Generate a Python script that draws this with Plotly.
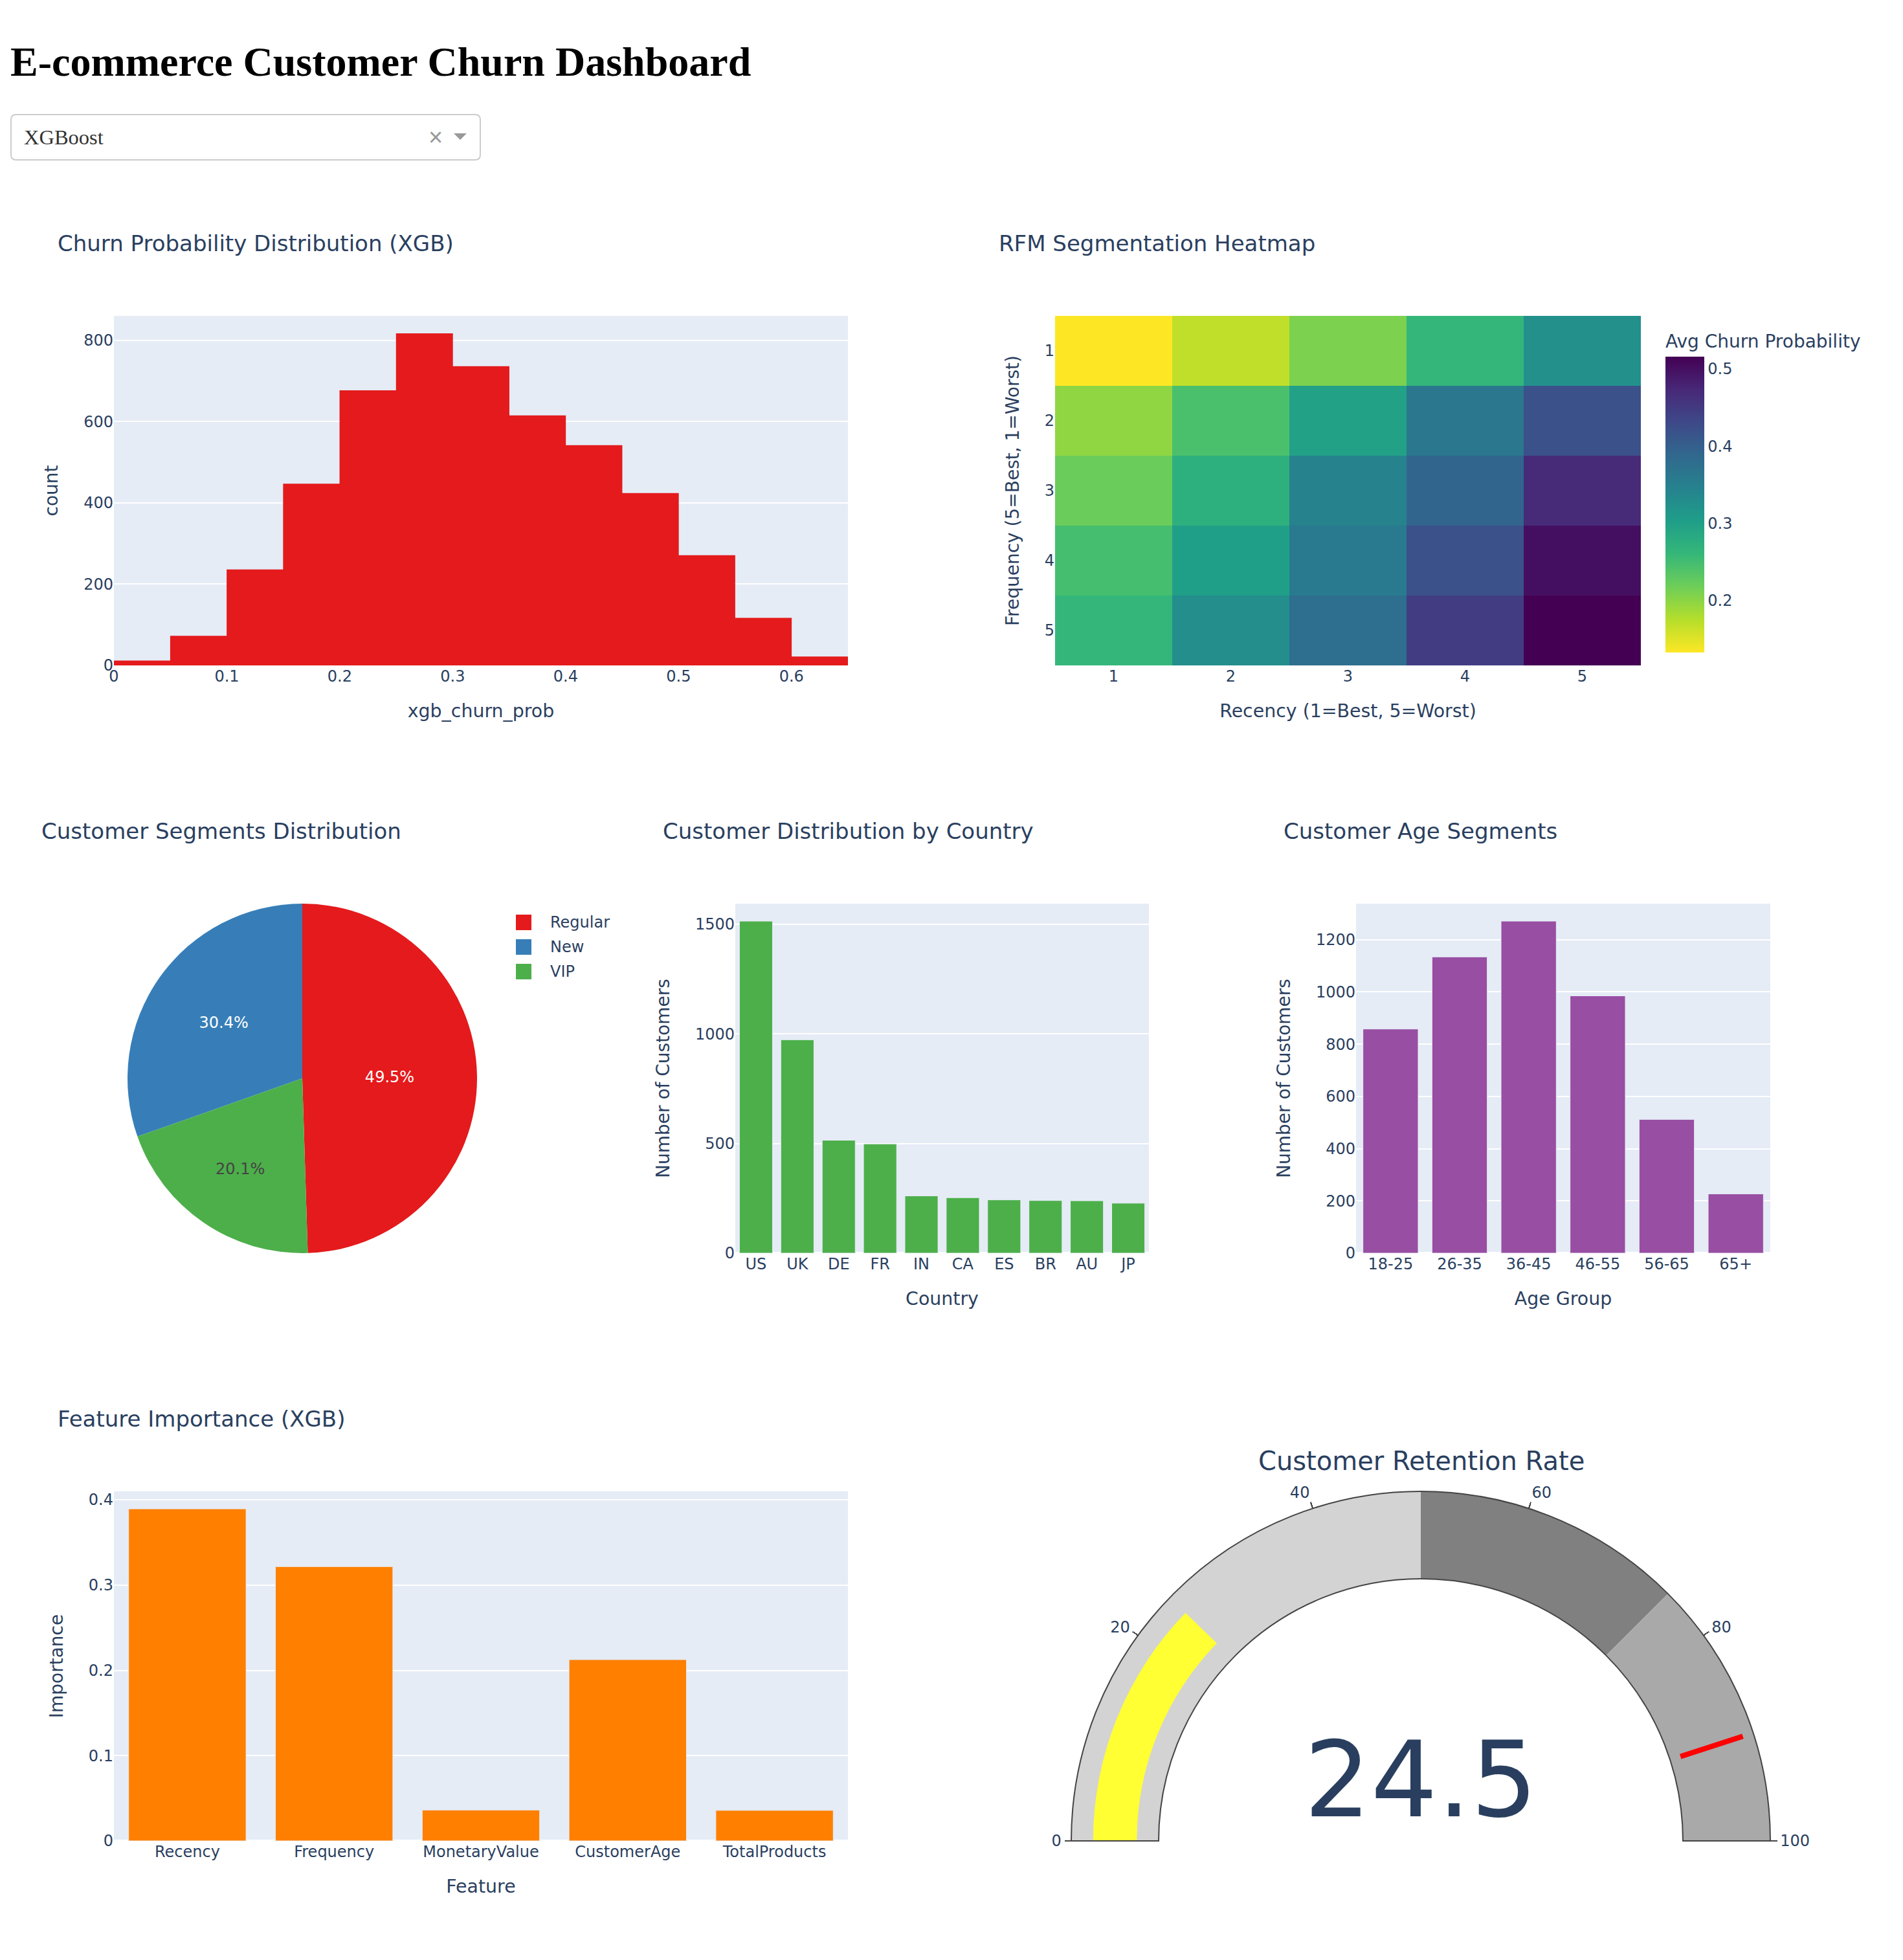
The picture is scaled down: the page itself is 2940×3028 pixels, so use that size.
import plotly.graph_objects as go

# ---------- data ----------
hist_x = [0.025, 0.075, 0.125, 0.175, 0.225, 0.275, 0.325, 0.375, 0.425, 0.475, 0.525, 0.575, 0.625]
hist_y = [12, 73, 236, 447, 677, 817, 736, 615, 542, 424, 271, 117, 22]
rfm_recency = [1, 2, 3, 4, 5]
rfm_frequency = [1, 2, 3, 4, 5]
rfm_row1 = [0.133, 0.169, 0.210, 0.263, 0.325]
rfm_row2 = [0.198, 0.244, 0.298, 0.363, 0.420]
rfm_row3 = [0.221, 0.275, 0.344, 0.393, 0.470]
rfm_row4 = [0.248, 0.301, 0.359, 0.420, 0.501]
rfm_row5 = [0.263, 0.328, 0.378, 0.447, 0.516]
seg_labels = ["Regular", "New", "VIP"]
seg_values = [2475, 1520, 1005]
countries = ["US", "UK", "DE", "FR", "IN", "CA", "ES", "BR", "AU", "JP"]
country_counts = [1514, 973, 515, 498, 261, 253, 243, 240, 239, 228]
age_groups = ["18-25", "26-35", "36-45", "46-55", "56-65", "65+"]
age_counts = [858, 1134, 1271, 985, 512, 227]
features = ["Recency", "Frequency", "MonetaryValue", "CustomerAge", "TotalProducts"]
importance = [0.3894, 0.3217, 0.0362, 0.2126, 0.0358]
retention = 24.5
retention_threshold = 90

RED, BLUE, GREEN, PURPLE, ORANGE, YELLOW = "#E41A1C", "#377EB8", "#4DAF4A", "#984EA3", "#FF7F00", "#FFFF33"
INK = "#2a3f5f"
FONT = "DejaVu Sans"
SERIF = "Liberation Serif"

# ---------- page geometry (window pixels; the page body has an 8px margin) ----------
W, H = 2924, 3000
def px(x): return (x - 8) / W
def py(y): return 1 - (y - 8) / H
def dom_x(a, b): return [px(a), px(b)]
def dom_y(top, bottom): return [py(bottom), py(top)]

ROW1 = dom_y(488, 1028)
ROW2 = dom_y(1396, 1936)
ROW3 = dom_y(2304, 2844)

fig = go.Figure()

fig.add_trace(go.Bar(x=hist_x, y=hist_y, width=0.0504, marker=dict(color=RED, line_width=0),
                     xaxis="x", yaxis="y", showlegend=False))
fig.add_trace(go.Heatmap(z=[rfm_row1, rfm_row2, rfm_row3, rfm_row4, rfm_row5], x=rfm_recency, y=rfm_frequency,
                         colorscale="Viridis_r", xaxis="x2", yaxis="y2",
                         colorbar=dict(title=dict(text="Avg Churn Probability", side="top", font=dict(size=28)),
                                       thickness=60, x=px(2553), xanchor="left", xpad=20, ypad=20,
                                       y=py(760.5), yanchor="middle", len=535 / H, lenmode="fraction",
                                       outlinewidth=0, tickfont=dict(size=24), dtick=0.1)))
fig.add_trace(go.Pie(labels=seg_labels, values=seg_values, textinfo="percent", automargin=False,
                     marker=dict(colors=[RED, BLUE, GREEN]), textfont=dict(size=24), showlegend=False,
                     domain=dict(x=dom_x(197, 737), y=ROW2)))
fig.add_trace(go.Bar(x=countries, y=country_counts, marker=dict(color=GREEN, line=dict(width=1, color="#E5ECF6")),
                     xaxis="x3", yaxis="y3", showlegend=False))
fig.add_trace(go.Bar(x=age_groups, y=age_counts, marker=dict(color=PURPLE, line=dict(width=1, color="#E5ECF6")),
                     xaxis="x4", yaxis="y4", showlegend=False))
fig.add_trace(go.Bar(x=features, y=importance, marker=dict(color=ORANGE, line=dict(width=1, color="#E5ECF6")),
                     xaxis="x5", yaxis="y5", showlegend=False))
fig.add_trace(go.Indicator(mode="gauge+number", value=retention,
                           number=dict(font=dict(size=162, color=INK)),
                           domain=dict(x=dom_x(1628, 2762), y=ROW3),
                           gauge=dict(axis=dict(range=[0, 100], tickfont=dict(size=24), tickwidth=2, ticklen=10, tickcolor="#444"),
                                      bar=dict(color=YELLOW, thickness=0.5),
                                      borderwidth=2, bordercolor="#444",
                                      steps=[dict(range=[0, 50], color="lightgray"),
                                             dict(range=[50, 75], color="gray"),
                                             dict(range=[75, 100], color="darkgray")],
                                      threshold=dict(line=dict(color="red", width=8), thickness=0.75,
                                                     value=retention_threshold))))

def axis(domain, anchor, title, standoff, size=28.4, **kw):
    return dict(domain=domain, anchor=anchor, title=dict(text=title, font=dict(size=size), standoff=standoff),
                tickfont=dict(size=24), gridwidth=2, zerolinewidth=4, automargin=False, **kw)

layout = dict(
    width=W, height=H, autosize=False, bargap=0.2,
    margin=dict(l=0, r=0, t=0, b=0, pad=0, autoexpand=False),
    font=dict(family=FONT, size=24, color=INK),
    showlegend=False,
    xaxis=axis(dom_x(176, 1310), "y", "xgb_churn_prob", 30, range=[0, 0.65], dtick=0.1, showgrid=False, zeroline=False),
    yaxis=axis(ROW1, "x", "count", 31, size=28, dtick=200),
    xaxis2=axis(dom_x(1630, 2535), "y2", "Recency (1=Best, 5=Worst)", 30, dtick=1, showgrid=False),
    yaxis2=axis(ROW1, "x2", "Frequency (5=Best, 1=Worst)", 30, size=28, dtick=1, autorange="reversed", showgrid=False),
    xaxis3=axis(dom_x(1136, 1775), "y3", "Country", 30, showgrid=False),
    yaxis3=axis(ROW2, "x3", "Number of Customers", 31, size=28, dtick=500),
    xaxis4=axis(dom_x(2095, 2735), "y4", "Age Group", 30, showgrid=False),
    yaxis4=axis(ROW2, "x4", "Number of Customers", 31, size=28, dtick=200),
    xaxis5=axis(dom_x(176, 1310), "y5", "Feature", 30, showgrid=False),
    yaxis5=axis(ROW3, "x5", "Importance", 31, size=28, dtick=0.1),
)
fig.update_layout(**layout)

# ---------- panel titles, page heading and selector ----------
def text(x, y, s, size, color=INK, family=FONT, anchor="left", bold=False):
    fig.add_annotation(xref="paper", yref="paper", x=px(x), y=py(y), text=f"<b>{s}</b>" if bold else s,
                       showarrow=False, xanchor=anchor, yanchor="middle",
                       font=dict(size=size, color=color, family=family))

panel_titles = [("Churn Probability Distribution (XGB)", 87, 376),
                ("RFM Segmentation Heatmap", 1541, 376),
                ("Customer Segments Distribution", 62, 1284),
                ("Customer Distribution by Country", 1022, 1284),
                ("Customer Age Segments", 1981, 1284),
                ("Feature Importance (XGB)", 87, 2192)]
for s, x, y in panel_titles:
    text(x, y, s, 34)

text(2196, 2257, "Customer Retention Rate", 40, anchor="center")

text(14, 95, "E-commerce Customer Churn Dashboard", 64, "#000000", SERIF, bold=True)

def rounded(x0, y0, x1, y1, r):
    X = lambda v: f"{px(v):.6f}"
    Y = lambda v: f"{py(v):.6f}"
    return (f"M{X(x0 + r)},{Y(y0)} L{X(x1 - r)},{Y(y0)} Q{X(x1)},{Y(y0)} {X(x1)},{Y(y0 + r)} "
            f"L{X(x1)},{Y(y1 - r)} Q{X(x1)},{Y(y1)} {X(x1 - r)},{Y(y1)} L{X(x0 + r)},{Y(y1)} "
            f"Q{X(x0)},{Y(y1)} {X(x0)},{Y(y1 - r)} L{X(x0)},{Y(y0 + r)} Q{X(x0)},{Y(y0)} {X(x0 + r)},{Y(y0)} Z")

fig.add_shape(type="path", xref="paper", yref="paper", path=rounded(17, 177, 742, 247, 8),
              line=dict(color="#cccccc", width=2), fillcolor="white")
fig.add_shape(type="path", xref="paper", yref="paper",
              path=f"M{px(701)},{py(206)} L{px(721)},{py(206)} L{px(711)},{py(216)} Z",
              line_width=0, fillcolor="#999999")
text(35, 212, "XGBoost", 32.5, "#333333", SERIF)
text(673, 212, "×", 38, "#999999", "Liberation Sans", anchor="center")

# ---------- pie legend ----------
for lab, col, yc in zip(seg_labels, [RED, BLUE, GREEN], [1425, 1463, 1501]):
    fig.add_shape(type="rect", xref="paper", yref="paper", x0=px(797), x1=px(821), y0=py(yc - 12), y1=py(yc + 12),
                  line_width=0, fillcolor=col)
    text(848, yc, lab, 24)

fig.write_html("out.html")
